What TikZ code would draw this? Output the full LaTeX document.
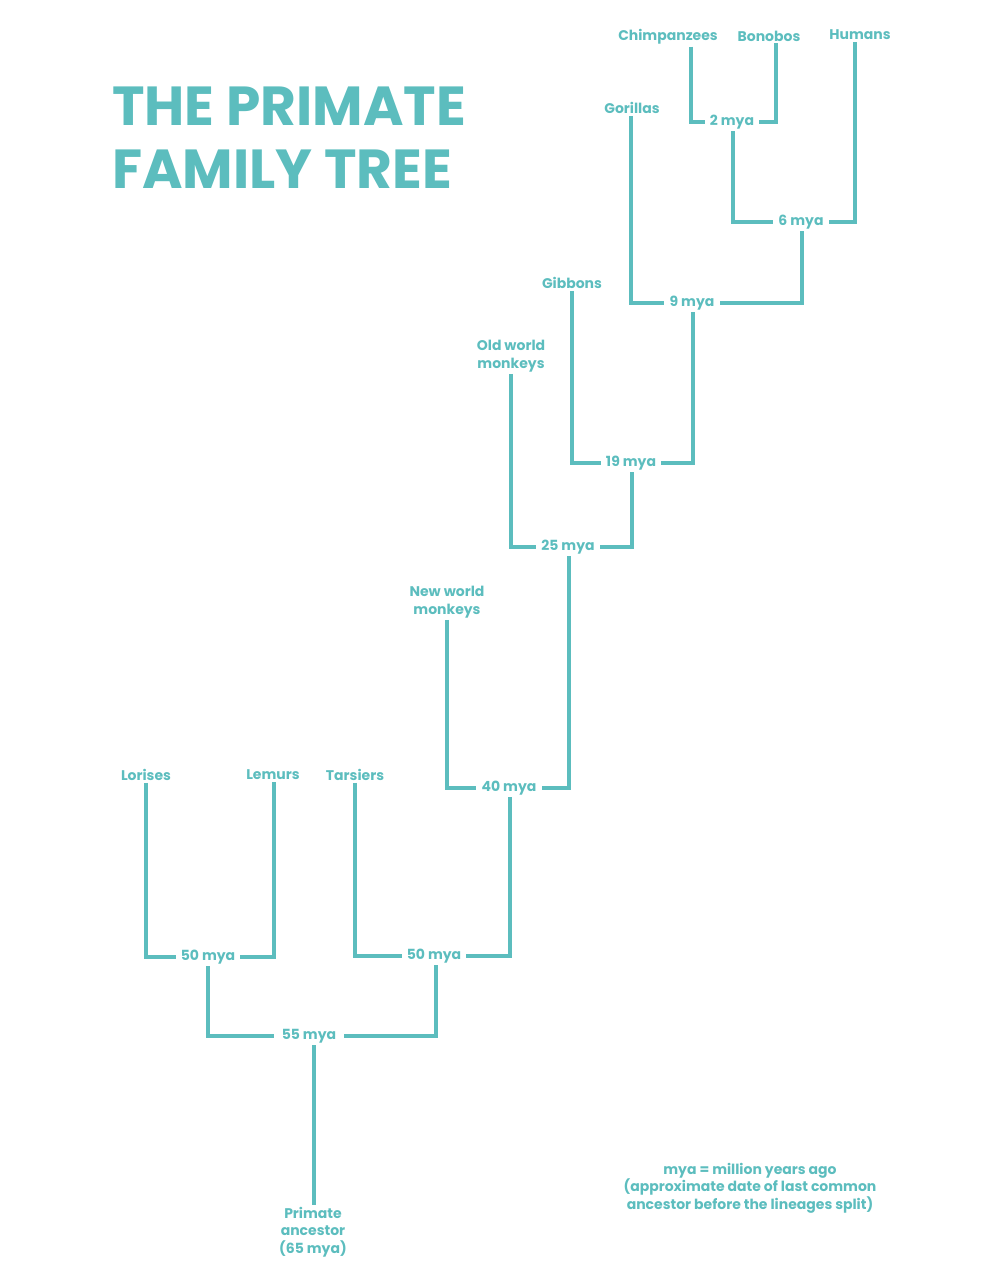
\documentclass[tikz,border=0pt]{standalone}
\usepackage{fontspec}
\setmainfont{Poppins}
\definecolor{teal1}{HTML}{5CBDBE}
\begin{document}
\begin{tikzpicture}[x=1pt,y=-1pt,
  lab/.style={text=teal1,font=\fontsize{14}{17.5}\selectfont\bfseries,align=center,inner sep=2pt},
  mid/.style={lab,inner xsep=5pt},
  br/.style={draw=teal1,line width=3.5pt}]
\useasboundingbox (0,0) rectangle (984,1288);
\node[text=teal1,font=\fontsize{55}{63}\selectfont\bfseries,align=left,anchor=north west,inner sep=0pt] (title) at (112,87) {THE PRIMATE\\FAMILY TREE};
% leaves
\node[lab] (chimp) at (668,37) {Chimpanzees};
\node[lab] (bono) at (769,36) {Bonobos};
\node[lab] (hum) at (860,35) {Humans};
\node[lab] (gor) at (632,108) {Gorillas};
\node[lab] (gib) at (572,283) {Gibbons};
\node[lab] (owm) at (511,356) {Old world\\monkeys};
\node[lab] (nwm) at (447,602) {New world\\monkeys};
\node[lab] (lor) at (146,775) {Lorises};
\node[lab] (lem) at (273,775) {Lemurs};
\node[lab] (tar) at (355,775) {Tarsiers};
\node[lab] (anc) at (313,1232) {Primate\\ancestor\\(65 mya)};
% internal
\node[mid] (m2) at (732,122) {2 mya};
\node[mid] (m6) at (801,222) {6 mya};
\node[mid] (m9) at (692,303) {9 mya};
\node[mid] (m19) at (631,463) {19 mya};
\node[mid] (m25) at (568,547) {25 mya};
\node[mid] (m40) at (509,788) {40 mya};
\node[mid] (m50r) at (434,956) {50 mya};
\node[mid] (m50l) at (208,957) {50 mya};
\node[mid,inner xsep=8pt] (m55) at (309,1036) {55 mya};
\node[lab] (note) at (750,1188) {mya = million years ago\\(approximate date of last common\\ancestor before the lineages split)};
% brackets
\draw[br] ([xshift=23pt]chimp.south) |- (m2.west);
\draw[br] ([xshift=7pt]bono.south) |- (m2.east);
\draw[br] ([xshift=1pt]m2.south) |- (m6.west);
\draw[br] ([xshift=-5pt]hum.south) |- (m6.east);
\draw[br] ([xshift=-1pt]gor.south) |- (m9.west);
\draw[br] ([xshift=1pt]m6.south) |- (m9.east);
\draw[br] (gib.south) |- (m19.west);
\draw[br] ([xshift=1pt]m9.south) |- (m19.east);
\draw[br] (owm.south) |- (m25.west);
\draw[br] ([xshift=1pt]m19.south) |- (m25.east);
\draw[br] (nwm.south) |- (m40.west);
\draw[br] ([xshift=1pt]m25.south) |- (m40.east);
\draw[br] (tar.south) |- (m50r.west);
\draw[br] ([xshift=1pt]m40.south) |- (m50r.east);
\draw[br] (lor.south) |- (m50l.west);
\draw[br] ([xshift=1pt]lem.south) |- (m50l.east);
\draw[br] (m50l.south) |- (m55.west);
\draw[br] ([xshift=2pt]m50r.south) |- (m55.east);
\draw[br] ([xshift=5pt]m55.south) -- ([xshift=1pt]anc.north);
\end{tikzpicture}
\end{document}
